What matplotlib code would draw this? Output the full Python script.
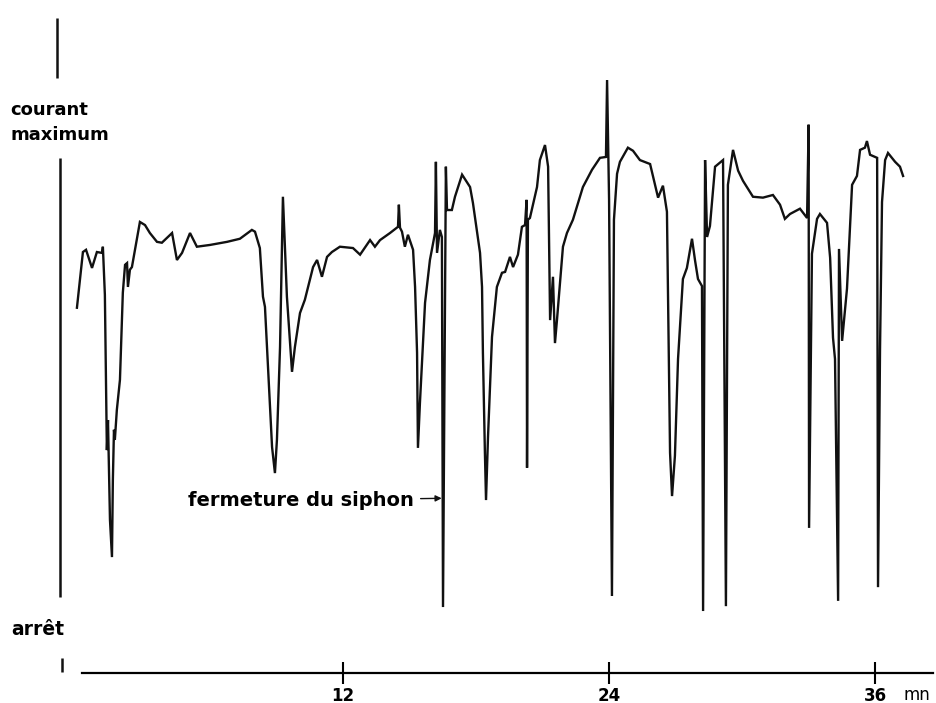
import matplotlib.pyplot as plt

# time in minutes, current in % of maximum (0 = arret, 100 = courant maximum)
time_mn = [
    0.00, 0.27, 0.41, 0.68, 0.90, 1.13, 1.17, 1.26, 1.35, 1.40, 1.49, 1.58, 1.62, 1.67, 1.71,
    1.80, 1.94, 2.07, 2.17, 2.26, 2.30, 2.39, 2.48, 2.84, 3.07, 3.29, 3.61, 3.83, 4.06, 4.29,
    4.51, 4.74, 5.10, 5.41, 6.00, 6.77, 7.35, 7.89, 8.03, 8.25, 8.39, 8.48, 8.80, 8.93, 9.02,
    9.16, 9.29, 9.47, 9.70, 9.83, 10.06, 10.28, 10.65, 10.83, 11.05, 11.28, 11.50, 11.86, 12.45,
    12.77, 13.22, 13.44, 13.67, 14.12, 14.48, 14.52, 14.57, 14.66, 14.79, 14.93, 15.16, 15.25,
    15.34, 15.38, 15.47, 15.70, 15.92, 16.15, 16.19, 16.24, 16.37, 16.46, 16.51, 16.60, 16.64,
    16.69, 16.91, 17.05, 17.37, 17.73, 17.86, 18.18, 18.27, 18.31, 18.40, 18.45, 18.54, 18.72,
    18.94, 19.17, 19.31, 19.53, 19.67, 19.89, 20.07, 20.21, 20.28, 20.30, 20.34, 20.43, 20.75,
    20.88, 21.11, 21.25, 21.34, 21.47, 21.56, 21.65, 21.92, 22.10, 22.37, 22.82, 23.23, 23.59,
    23.86, 23.91, 24.00, 24.13, 24.22, 24.36, 24.49, 24.85, 25.08, 25.39, 25.85, 26.07, 26.21,
    26.43, 26.61, 26.75, 26.84, 26.97, 27.11, 27.33, 27.51, 27.74, 27.88, 28.01, 28.19, 28.24,
    28.33, 28.42, 28.55, 28.78, 29.14, 29.27, 29.36, 29.59, 29.82, 30.04, 30.49, 30.94, 31.39,
    31.71, 31.93, 32.16, 32.61, 32.93, 33.00, 33.02, 33.15, 33.38, 33.51, 33.83, 33.97, 34.10,
    34.19, 34.33, 34.37, 34.51, 34.73, 34.96, 35.18, 35.32, 35.54, 35.63, 35.77, 36.09, 36.13,
    36.22, 36.31, 36.45, 36.58, 36.90, 37.12, 37.26,
]
current_pct = [
    66.1, 78.7, 79.2, 75.1, 78.7, 78.5, 79.9, 69.0, 33.9, 40.7, 18.1, 9.7, 27.1, 38.5, 36.2,
    43.0, 49.8, 69.5, 75.8, 76.2, 70.8, 74.7, 75.3, 85.5, 84.8, 83.0, 81.0, 80.8, 81.9, 83.0,
    76.9, 78.5, 83.0, 79.9, 80.3, 81.0, 81.7, 83.7, 83.3, 79.6, 68.6, 66.3, 34.6, 28.7, 36.2,
    57.2, 91.2, 68.6, 51.6, 57.2, 64.9, 67.9, 75.3, 76.9, 73.1, 77.6, 78.7, 79.9, 79.6,
    78.1, 81.4, 79.9, 81.4, 83.0, 84.4, 89.4, 84.2, 83.3, 79.9, 82.6, 79.2, 70.8,
    55.9, 34.4, 44.6, 67.2, 76.9, 83.0, 99.1, 78.5, 83.7, 82.1, -1.6, 67.9, 98.0,
    88.2, 88.2, 91.2, 96.2, 93.4, 89.8, 78.5, 70.8, 55.9, 33.3, 22.6, 36.9, 59.5,
    70.8, 74.0, 74.2, 77.6, 75.3, 78.1, 84.4, 84.8, 90.5, 29.9, 86.0, 86.4, 93.4,
    99.5, 102.9, 98.0, 63.3, 73.1, 58.1, 63.3, 79.9, 83.0, 86.0, 93.4, 97.3, 100.0,
    100.2, 117.6, 90.5, 0.9, 86.0, 96.4, 99.1, 102.3, 101.6, 99.5, 98.6, 93.9, 91.0,
    93.7, 87.8, 33.3, 23.5, 32.6, 54.5, 72.6, 75.1, 81.7, 76.7, 72.6, 71.0, -2.5,
    99.5, 82.1, 84.6, 98.0, 99.5, -1.4, 93.9, 101.8, 97.1, 94.8, 91.2, 91.0, 91.6,
    89.4, 86.2, 87.3, 88.5, 86.4, 107.5, 16.3, 78.3, 86.2, 87.3, 85.3, 77.4, 59.3,
    54.5, -0.2, 79.4, 58.6, 70.4, 93.9, 95.9, 101.8, 102.3, 103.8, 100.7, 100.0, 2.9,
    56.6, 90.0, 99.5, 101.1, 99.1, 98.0, 95.9,
]

tick_mn = [12, 24, 36]
tick_labels = ["12", "24", "36"]

fig = plt.figure(figsize=(9.37, 7.03), dpi=100)
ax = fig.add_axes([0, 0, 1, 1])
ax.set_xlim(-3.47, 38.79)
ax.set_ylim(-23.3, 135.7)

# trace
ax.plot(time_mn, current_pct, color="#111111", lw=1.7, solid_joinstyle="miter")

# time axis
for s in ["left", "right", "top"]:
    ax.spines[s].set_visible(False)
ax.spines["bottom"].set_position(("data", -16.5))
ax.spines["bottom"].set_bounds(0.23, 38.6)
ax.spines["bottom"].set_linewidth(1.6)
ax.set_yticks([])
ax.set_xticks(tick_mn, tick_labels)
ax.tick_params(axis="x", direction="inout", length=16, width=1.5, pad=2, labelsize=12)
for lab in ax.get_xticklabels():
    lab.set_fontweight("bold")
ax.text(37.9, -21.4, "mn", fontsize=12, ha="center", va="center")

# scale on the left
ax.vlines(-0.88, 118.1, 131.7, color="#111111", lw=1.8)
ax.vlines(-0.77, 0.7, 100.0, color="#111111", lw=1.8)
ax.vlines(-0.68, -16.3, -13.1, color="#111111", lw=1.8)
ax.text(-3.0, 108.0, "courant\nmaximum", fontsize=13, fontweight="bold",
        ha="left", va="center", linespacing=1.55)
ax.text(-2.95, -6.7, "arrêt", fontsize=13.5, fontweight="bold", ha="left", va="center")

# annotation
ax.annotate("fermeture du siphon", xy=(16.45, 23.0), xytext=(5.0, 22.5),
            fontsize=14, fontweight="bold", ha="left", va="center",
            arrowprops=dict(arrowstyle="-|>", color="#111111", lw=1.0,
                            shrinkA=3, shrinkB=0, mutation_scale=9))

fig.savefig("out.png", dpi=100)
